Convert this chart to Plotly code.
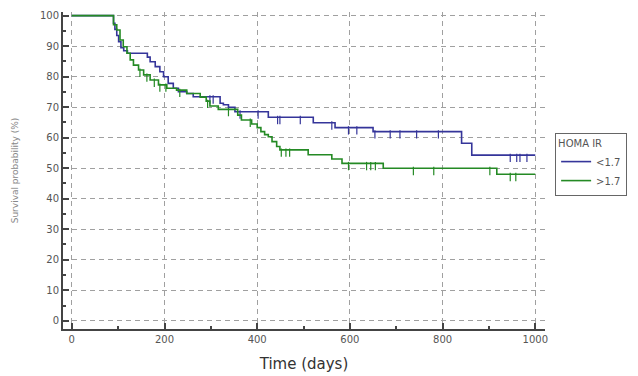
import numpy as np
import plotly.graph_objects as go

# Kaplan-Meier step data (time in days, survival %)
blue_name = "<1.7"
blue_t = [0, 90, 93, 97, 101, 106, 112, 120, 163, 169, 180, 190, 198, 208, 219, 230, 248, 262,
          320, 327, 338, 352, 424, 521, 568, 650, 841, 863, 1000]
blue_s = [100, 97.5, 95.5, 93.5, 91.5, 89.5, 88.5, 87.7, 86.4, 84.9, 83.3, 81.6, 80, 77.8, 76.2, 75.1, 74.5, 73.4,
          71.3, 70.8, 70, 68.5, 66.7, 64.9, 63.3, 62, 58.2, 54.3, 54.3]
blue_cens = [298, 305, 363, 402, 444, 449, 493, 561, 597, 615, 654, 687, 708, 744, 791, 946, 960, 967, 982]

green_name = ">1.7"
green_t = [0, 90, 97, 104, 111, 119, 126, 133, 144, 155, 169, 187, 205, 226, 248, 277, 290, 298, 316,
           358, 366, 388, 400, 408, 416, 424, 432, 442, 449, 510, 561, 583, 672, 917, 1000]
green_s = [100, 97, 95.3, 92, 89.8, 87.7, 85.5, 83.8, 82.2, 80.6, 78.9, 77.3, 76.2, 75.6, 74.5, 73.3, 72, 70.4, 69.3,
           67.4, 65.8, 64.5, 63.3, 62, 61, 60.3, 58.7, 57.1, 56, 54.4, 53, 51.6, 50, 48, 48]
green_cens = [147, 162, 178, 190, 203, 233, 293, 338, 385, 452, 462, 470, 597, 636, 645, 655, 737, 781, 902, 946, 958]

legend_title = "HOMA IR"
x_ticks = [0, 200, 400, 600, 800, 1000]
y_ticks = [0, 10, 20, 30, 40, 50, 60, 70, 80, 90, 100]

BLUE = "#35359a"
GREEN = "#248a24"


def step_value(ts, ss, t):
    idx = np.searchsorted(np.array(ts), t, side="right") - 1
    return ss[max(idx, 0)]


fig = go.Figure()
for name, ts, ss, cens, col in [(blue_name, blue_t, blue_s, blue_cens, BLUE),
                                (green_name, green_t, green_s, green_cens, GREEN)]:
    fig.add_trace(go.Scatter(x=ts, y=ss, mode="lines", name=name,
                             line=dict(color=col, width=1.6, shape="hv")))
    fig.add_trace(go.Scatter(x=cens, y=[step_value(ts, ss, c) - 0.9 for c in cens], mode="markers",
                             showlegend=False, hoverinfo="skip",
                             marker=dict(symbol="line-ns", size=6, line=dict(color=col, width=1.2))))

tickfont = dict(family="DejaVu Sans", size=10, color="#555555")
grid = dict(showgrid=True, gridcolor="#a0a0a0", griddash="5px,4px", gridwidth=1)
fig.update_layout(
    width=638, height=376,
    margin=dict(l=63, r=93, t=12, b=47, autoexpand=False),
    paper_bgcolor="white", plot_bgcolor="white",
    font=dict(family="DejaVu Sans"),
    xaxis=dict(range=[-19, 1021], tickvals=x_ticks, ticks="inside", ticklen=6, tickcolor="#444",
               tickwidth=1.5, automargin=False,
               minor=dict(dtick=100, tick0=0, ticks="inside", ticklen=3, tickcolor="#444", showgrid=False),
               showline=True, linecolor="#444", linewidth=2, zeroline=False,
               tickfont=tickfont,
               title=dict(text="Time (days)", font=dict(family="DejaVu Sans", size=15, color="#333"),
                          standoff=14),
               **grid),
    yaxis=dict(range=[-2.7, 101.2], tickvals=y_ticks, ticks="inside", ticklen=6, tickcolor="#444",
               tickwidth=1.5, automargin=False,
               minor=dict(dtick=5, tick0=0, ticks="inside", ticklen=3, tickcolor="#444", showgrid=False),
               showline=True, linecolor="#444", linewidth=2, zeroline=False,
               tickfont=tickfont,
               title=dict(text="Survival probability (%)",
                          font=dict(family="DejaVu Sans", size=9, color="#888"), standoff=20),
               **grid),
    legend=dict(x=1.021, y=0.618, xanchor="left", yanchor="top",
                title=dict(text=legend_title, font=dict(size=10, color="#555")),
                font=dict(size=10, color="#555"), bordercolor="#666", borderwidth=1,
                bgcolor="white", itemwidth=30, tracegroupgap=0),
    showlegend=True,
)

fig.write_html("out.html")
